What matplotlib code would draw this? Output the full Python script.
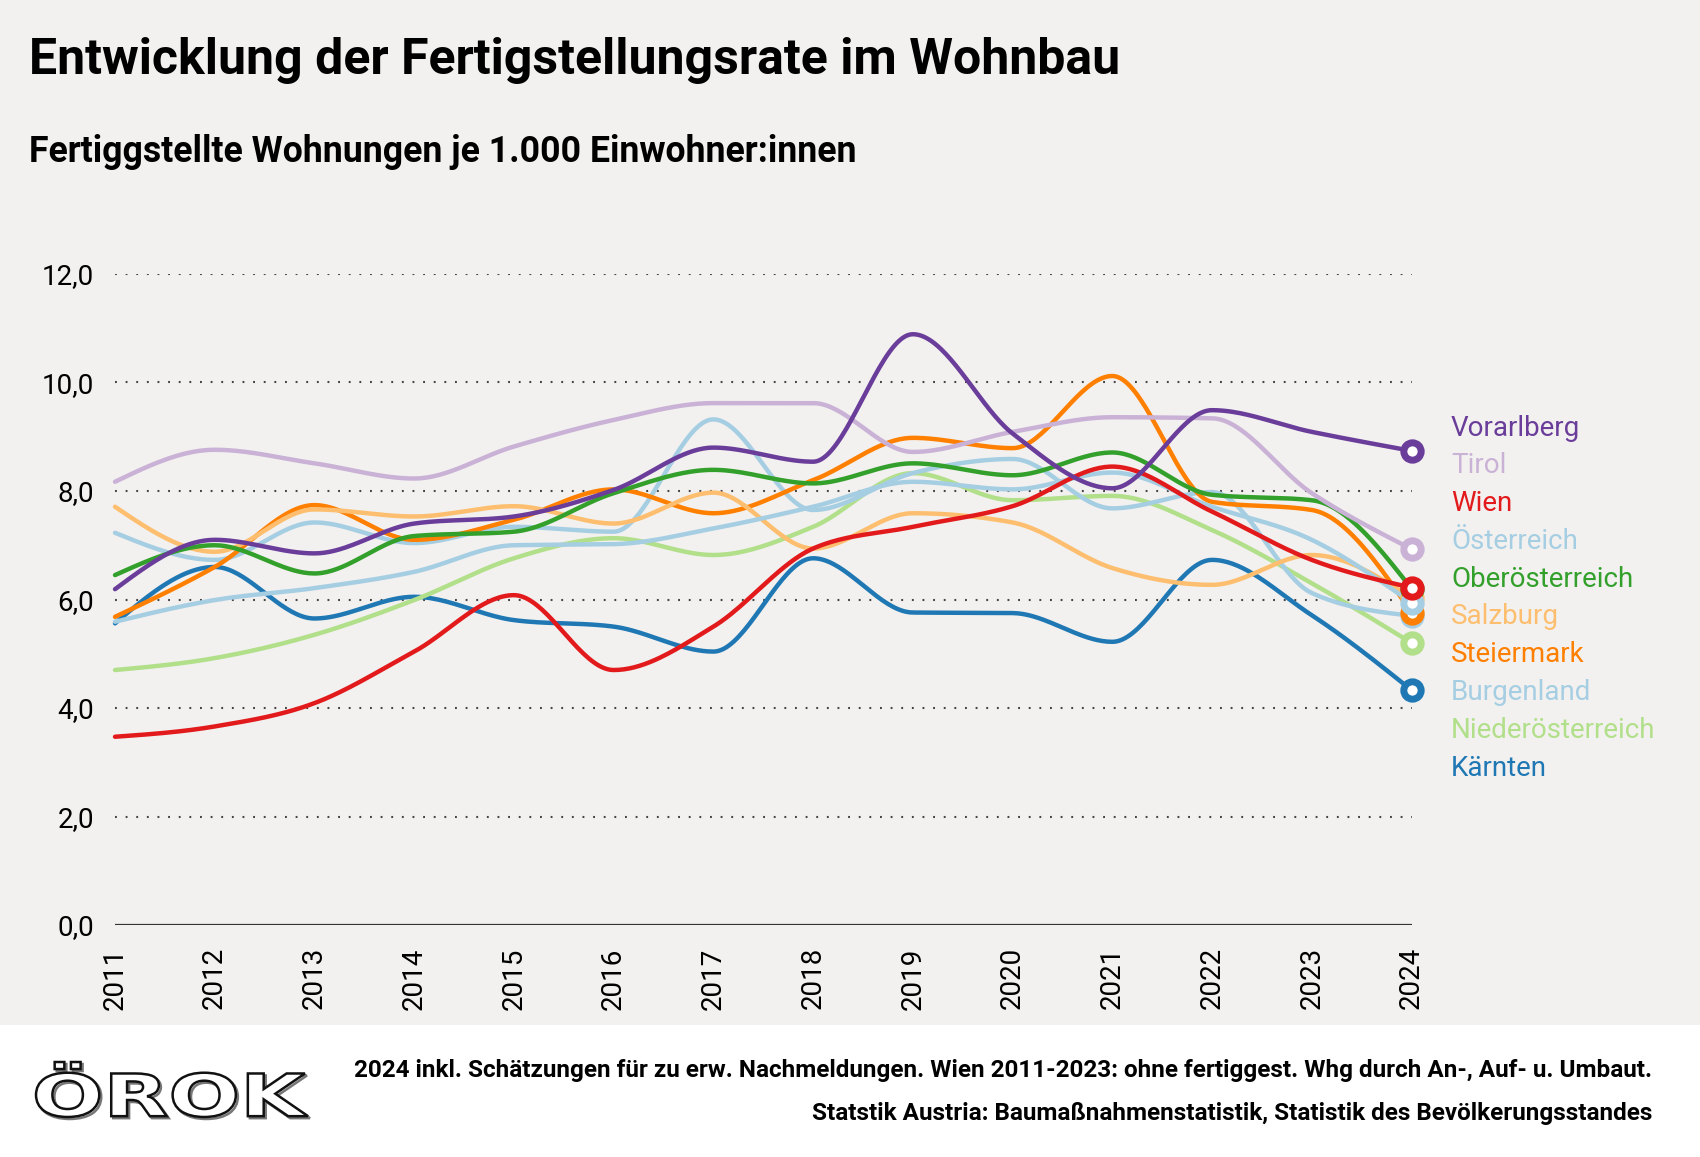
import numpy as np
import matplotlib
matplotlib.use("Agg")
import matplotlib.pyplot as plt
from matplotlib.textpath import TextPath
from matplotlib.font_manager import FontProperties
from matplotlib.patches import PathPatch, Rectangle
from matplotlib.transforms import Affine2D

# data (Fertiggestellte Wohnungen je 1.000 Einwohner:innen)
years = list(range(2011, 2025))

vorarlberg = [6.19, 7.10, 6.85, 7.40, 7.53, 8.02, 8.80, 8.54, 10.89, 9.06, 8.05, 9.49, 9.09, 8.74]
tirol = [8.17, 8.76, 8.51, 8.23, 8.82, 9.31, 9.62, 9.62, 8.72, 9.09, 9.36, 9.34, 7.96, 6.93]
wien = [3.47, 3.66, 4.09, 5.04, 6.08, 4.70, 5.50, 6.94, 7.34, 7.72, 8.45, 7.62, 6.73, 6.22]
oesterreich = [5.59, 5.99, 6.21, 6.51, 7.00, 7.02, 7.31, 7.71, 8.17, 8.03, 8.34, 7.71, 7.10, 5.94]
oberoesterreich = [6.45, 7.00, 6.48, 7.17, 7.25, 7.96, 8.39, 8.14, 8.51, 8.29, 8.71, 7.93, 7.83, 6.20]
salzburg = [7.71, 6.88, 7.66, 7.53, 7.72, 7.40, 7.97, 6.94, 7.59, 7.42, 6.58, 6.27, 6.82, 6.03]
steiermark = [5.68, 6.60, 7.74, 7.10, 7.47, 8.03, 7.59, 8.20, 8.98, 8.79, 10.12, 7.80, 7.65, 5.76]
burgenland = [7.23, 6.73, 7.42, 7.04, 7.34, 7.25, 9.32, 7.65, 8.33, 8.59, 7.68, 7.98, 6.12, 5.70]
niederoesterreich = [4.70, 4.92, 5.35, 5.99, 6.76, 7.13, 6.82, 7.34, 8.33, 7.83, 7.91, 7.28, 6.30, 5.20]
kaernten = [5.56, 6.60, 5.65, 6.05, 5.62, 5.50, 5.04, 6.76, 5.76, 5.75, 5.22, 6.73, 5.71, 4.33]

names = ["Vorarlberg", "Tirol", "Wien", "Österreich", "Oberösterreich",
         "Salzburg", "Steiermark", "Burgenland", "Niederösterreich", "Kärnten"]
values = [vorarlberg, tirol, wien, oesterreich, oberoesterreich,
          salzburg, steiermark, burgenland, niederoesterreich, kaernten]
colors = ["#6a3d9a", "#cab2d6", "#e31a1c", "#a6cee3", "#33a02c",
          "#fdbf6f", "#ff7f00", "#a6cee3", "#b2df8a", "#1f78b4"]

yticks = [0, 2, 4, 6, 8, 10, 12]

FONT = "Roboto"


def _sign(v):
    return -1.0 if v < 0 else 1.0


def monotone_x(x, y, n=40):
    # monotone cubic like d3.curveMonotoneX
    x = np.asarray(x, float)
    y = np.asarray(y, float)
    m = len(x)
    t = np.zeros(m)
    for i in range(1, m - 1):
        h0 = x[i] - x[i - 1]
        h1 = x[i + 1] - x[i]
        s0 = (y[i] - y[i - 1]) / h0
        s1 = (y[i + 1] - y[i]) / h1
        p = (s0 * h1 + s1 * h0) / (h0 + h1)
        t[i] = (_sign(s0) + _sign(s1)) * min(abs(s0), abs(s1), 0.5 * abs(p))
    t[0] = (3 * (y[1] - y[0]) / (x[1] - x[0]) - t[1]) / 2
    t[-1] = (3 * (y[-1] - y[-2]) / (x[-1] - x[-2]) - t[-2]) / 2
    xs, ys = [], []
    u = np.linspace(0, 1, n)
    for i in range(m - 1):
        dx = (x[i + 1] - x[i]) / 3
        p0 = np.array([x[i], y[i]])
        p1 = np.array([x[i] + dx, y[i] + dx * t[i]])
        p2 = np.array([x[i + 1] - dx, y[i + 1] - dx * t[i + 1]])
        p3 = np.array([x[i + 1], y[i + 1]])
        b = ((1 - u) ** 3)[:, None] * p0 + (3 * (1 - u) ** 2 * u)[:, None] * p1 \
            + (3 * (1 - u) * u ** 2)[:, None] * p2 + (u ** 3)[:, None] * p3
        if i > 0:
            b = b[1:]
        xs.extend(b[:, 0])
        ys.extend(b[:, 1])
    return np.array(xs), np.array(ys)


fig = plt.figure(figsize=(17, 11.57), dpi=100, facecolor="white")

# background / text layer in pixel coordinates
bg = fig.add_axes([0, 0, 1, 1])
bg.set_xlim(0, 1700)
bg.set_ylim(1157, 0)
bg.axis("off")
bg.add_patch(Rectangle((0, 0), 1700, 1025, color="#f2f1ef", lw=0))

bg.text(29, 74, "Entwicklung der Fertigstellungsrate im Wohnbau", family=FONT,
        fontweight="bold", fontsize=36, va="baseline", ha="left", color="black")
bg.text(29, 162, "Fertiggstellte Wohnungen je 1.000 Einwohner:innen", family=FONT,
        fontweight="bold", fontsize=25.7, va="baseline", ha="left", color="black")

ax = fig.add_axes([115 / 1700, 1 - 925 / 1157, (1411.5 - 115) / 1700, (925 - 274) / 1157])
ax.set_facecolor("none")
ax.set_xlim(2011, 2024)
ax.set_ylim(0, 12)
for s in ax.spines.values():
    s.set_visible(False)

for v in yticks[1:]:
    ax.axhline(v, color="#444444", lw=1.5, linestyle=(0, (0.9, 4.2)), zorder=1)
ax.axhline(0, color="#333333", lw=1.6, zorder=1)

ax.set_yticks(yticks)
ax.set_yticklabels([f"{v:.1f}".replace(".", ",") for v in yticks], family=FONT, fontsize=20)
ax.set_xticks(years)
ax.set_xticklabels([str(y) for y in years], rotation=90, family=FONT, fontsize=20)
ax.tick_params(axis="y", length=0, pad=15)
ax.tick_params(axis="x", length=0, pad=16)

# draw from last to first so Vorarlberg sits on top
for name, vals, col in reversed(list(zip(names, values, colors))):
    sx, sy = monotone_x(years, vals)
    ax.plot(sx, sy, color=col, lw=3.2, clip_on=False, solid_capstyle="round", zorder=3)
    ax.plot([years[-1]], [vals[-1]], "o", ms=12.5, mfc="white", mec=col, mew=5,
            clip_on=False, zorder=4)

for i, (name, col) in enumerate(zip(names, colors)):
    bg.text(1451, 428 + i * 37.8, name, color=col, family=FONT, fontsize=20,
            va="center", ha="left")

# logo
tp = TextPath((0, 0), "ÖROK", prop=FontProperties(family="DejaVu Sans", weight="bold"), size=50)
bb = tp.get_extents()
for off, ec in [(2.0, "#777777"), (0, "#111111")]:
    tr = Affine2D().translate(-bb.x0, -bb.y0).scale(272 / bb.width, -55 / bb.height) \
        .translate(36 + off, 1117 + off)
    bg.add_patch(PathPatch(tr.transform_path(tp), fc="white", ec=ec, lw=1.8))

bg.text(1652, 1077, "2024 inkl. Schätzungen für zu erw. Nachmeldungen. Wien 2011-2023: ohne fertiggest. Whg durch An-, Auf- u. Umbaut.",
        family=FONT, fontweight="bold", fontsize=17.5, ha="right", va="baseline")
bg.text(1652, 1120, "Statstik Austria: Baumaßnahmenstatistik, Statistik des Bevölkerungsstandes",
        family=FONT, fontweight="bold", fontsize=17.5, ha="right", va="baseline")

fig.savefig("out.png", dpi=100, facecolor="white")
